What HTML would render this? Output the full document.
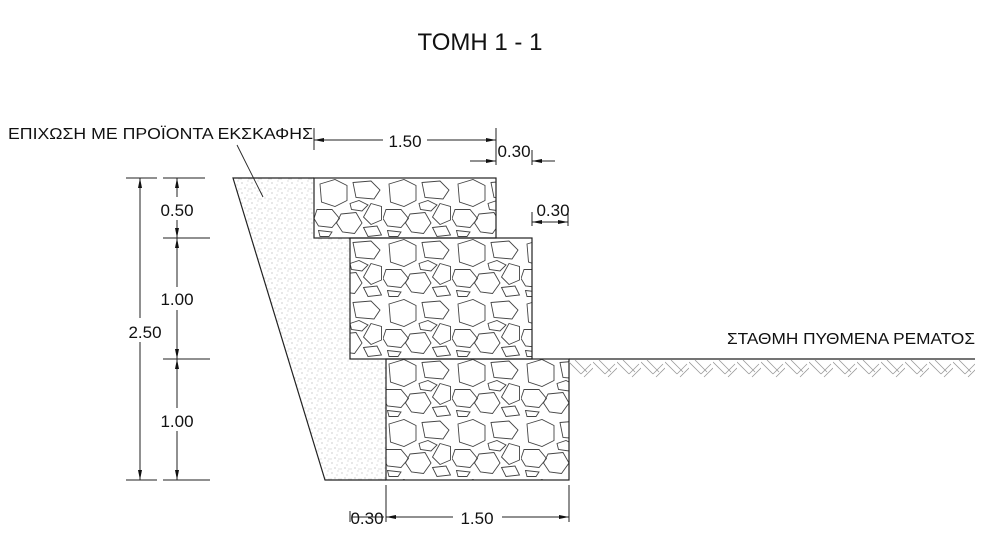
<!DOCTYPE html>
<html><head><meta charset="utf-8"><style>
html,body{margin:0;padding:0;background:#fff;width:990px;height:556px;overflow:hidden}
svg{display:block}
text{font-family:"Liberation Sans",sans-serif;fill:#111}
</style></head><body>
<svg width="990" height="556" viewBox="0 0 990 556" xmlns="http://www.w3.org/2000/svg">
<defs>
<pattern id="stone" width="46" height="40" patternUnits="userSpaceOnUse" patternTransform="translate(314 178) scale(1.5)">
<g fill="none" stroke="#444" stroke-width="0.6">
<polygon points="4,4 14,1 22,5 22,15 14,19 5,16"/>
<polygon points="26,3 38,2 44,8 40,14 28,13"/>
<polygon points="24,17 30,15 36,18 32,22 25,21"/>
<polygon points="38,17 45,19 45,28 38,31 33,26"/>
<polygon points="2,21 12,21 17,27 12,33 3,32 0,27"/>
<polygon points="18,24 28,23 32,30 27,37 19,36 15,30"/>
<polygon points="33,33 42,32 45,38 36,39"/>
<polygon points="3,35 12,36 10,39 4,39"/>
</g>
</pattern>
<pattern id="sand" width="10" height="10" patternUnits="userSpaceOnUse">
<g fill="#aaa"><circle cx="2" cy="3" r="0.6"/><circle cx="8" cy="1" r="0.5"/><circle cx="5" cy="8" r="0.6"/><circle cx="9" cy="9" r="0.5"/><circle cx="1" cy="9" r="0.5"/><circle cx="7" cy="5" r="0.5"/></g>
</pattern>
<pattern id="hatch" width="24" height="18" patternUnits="userSpaceOnUse" x="569" y="360">
<g stroke="#999" stroke-width="0.8" fill="none">
<line x1="0" y1="2" x2="12" y2="14"/><line x1="6" y1="0" x2="18" y2="12"/>
<line x1="12" y1="14" x2="22" y2="4"/><line x1="15" y1="17" x2="24" y2="8"/>
</g>
</pattern>
<marker id="ar" viewBox="0 0 10 4" refX="10" refY="2" markerWidth="11" markerHeight="4" markerUnits="userSpaceOnUse" orient="auto-start-reverse"><path d="M0,0 L10,2 L0,4z" fill="#111"/></marker>
</defs>

<text x="480" y="50" font-size="24" text-anchor="middle">ΤΟΜΗ 1 - 1</text>

<polygon points="233,178 314,178 314,238 350,238 350,359 386,359 386,480 325,480" fill="url(#sand)"/>
<polyline points="314,178 233,178 325,480 386,480" fill="none" stroke="#222" stroke-width="1.2"/>

<rect x="314" y="178" width="182" height="60" fill="url(#stone)" stroke="#222" stroke-width="1.2"/>
<rect x="350" y="238" width="182" height="121" fill="url(#stone)" stroke="#222" stroke-width="1.2"/>
<rect x="386" y="359" width="183" height="121" fill="url(#stone)" stroke="#222" stroke-width="1.2"/>

<rect x="569" y="360" width="406" height="18" fill="url(#hatch)"/>
<line x1="569" y1="359" x2="975" y2="359" stroke="#222" stroke-width="1.2"/>
<text x="727" y="344" font-size="16" textLength="248" lengthAdjust="spacingAndGlyphs">ΣΤΑΘΜΗ ΠΥΘΜΕΝΑ ΡΕΜΑΤΟΣ</text>

<text x="8" y="139" font-size="16" textLength="305" lengthAdjust="spacingAndGlyphs">ΕΠΙΧΩΣΗ ΜΕ ΠΡΟΪΟΝΤΑ ΕΚΣΚΑΦΗΣ</text>
<line x1="237" y1="145" x2="263" y2="197" stroke="#222" stroke-width="0.9"/>

<g stroke="#222" stroke-width="1" fill="none">
<line x1="314" y1="128" x2="314" y2="150"/>
<line x1="496" y1="128" x2="496" y2="165"/>
<line x1="314" y1="140" x2="383" y2="140" marker-start="url(#ar)"/>
<line x1="427" y1="140" x2="496" y2="140" marker-end="url(#ar)"/>
<line x1="532" y1="150" x2="532" y2="165"/>
<line x1="470" y1="161" x2="496" y2="161" marker-end="url(#ar)"/>
<line x1="555" y1="161" x2="532" y2="161" marker-end="url(#ar)"/>
<line x1="532" y1="212" x2="532" y2="226"/>
<line x1="568" y1="212" x2="568" y2="226"/>
<line x1="532" y1="222" x2="568" y2="222" marker-start="url(#ar)" marker-end="url(#ar)"/>
<line x1="386" y1="485" x2="386" y2="522"/>
<line x1="569" y1="485" x2="569" y2="522"/>
<line x1="350" y1="511" x2="350" y2="522"/>
<line x1="386" y1="517" x2="453" y2="517" marker-start="url(#ar)"/>
<line x1="502" y1="517" x2="569" y2="517" marker-end="url(#ar)"/>
<line x1="126" y1="178" x2="157" y2="178"/>
<line x1="126" y1="480" x2="157" y2="480"/>
<line x1="140" y1="178" x2="140" y2="318" marker-start="url(#ar)"/>
<line x1="140" y1="342" x2="140" y2="480" marker-end="url(#ar)"/>
<line x1="163" y1="178" x2="205" y2="178"/>
<line x1="163" y1="238" x2="210" y2="238"/>
<line x1="163" y1="359" x2="210" y2="359"/>
<line x1="163" y1="480" x2="210" y2="480"/>
<line x1="177" y1="178" x2="177" y2="197" marker-start="url(#ar)"/>
<line x1="177" y1="220" x2="177" y2="238" marker-end="url(#ar)"/>
<line x1="177" y1="238" x2="177" y2="287" marker-start="url(#ar)"/>
<line x1="177" y1="310" x2="177" y2="359" marker-end="url(#ar)"/>
<line x1="177" y1="359" x2="177" y2="408" marker-start="url(#ar)"/>
<line x1="177" y1="431" x2="177" y2="480" marker-end="url(#ar)"/>
</g>
<g font-size="17">
<text x="405" y="147" text-anchor="middle">1.50</text>
<text x="514" y="157" text-anchor="middle">0.30</text>
<text x="553" y="216" text-anchor="middle">0.30</text>
<text x="477" y="524" text-anchor="middle">1.50</text>
<text x="367" y="524" text-anchor="middle">0.30</text>
<text x="145" y="338" text-anchor="middle">2.50</text>
<text x="177" y="216" text-anchor="middle">0.50</text>
<text x="177" y="305" text-anchor="middle">1.00</text>
<text x="177" y="427" text-anchor="middle">1.00</text>
</g>
<line x1="352" y1="517" x2="384" y2="517" stroke="#222" stroke-width="1"/>
</svg>
</body></html>
